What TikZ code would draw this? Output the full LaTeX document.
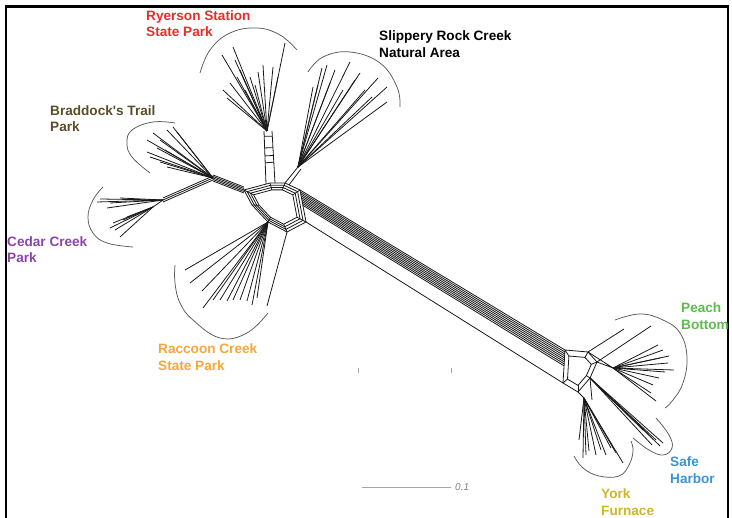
\documentclass[tikz,border=0pt]{standalone}
\usepackage{fontspec}
\newfontfamily\labelfont{Liberation Sans}
\usepackage{tikz}
\usetikzlibrary{calc}
\definecolor{ryersonred}{HTML}{EE2B2B}
\definecolor{braddockolive}{HTML}{574E2A}
\definecolor{cedarpurple}{HTML}{8A45A9}
\definecolor{raccoonorange}{HTML}{F8A53A}
\definecolor{peachgreen}{HTML}{5CBC4B}
\definecolor{safeblue}{HTML}{3894D8}
\definecolor{yorkyellow}{HTML}{CDB62C}
\tikzset{
  framerule/.style={line width=2.2pt,draw=black},
  branch/.style={line width=0.8pt,draw=black!90},
  clusterarc/.style={line width=0.75pt,draw=black!65},
  sitelabel/.style={font=\labelfont\bfseries\fontsize{13.6}{16.6}\selectfont,
                    anchor=west,align=left,inner sep=0pt},
  scalebar/.style={line width=0.8pt,draw=black!35},
}

\begin{document}
\begin{tikzpicture}[x=1pt,y=-1pt]
  \useasboundingbox (0,0) rectangle (732,518);
  \draw[framerule] (6,518) -- (6,6.5) -- (728,6.5) -- (728,518);

  % left hub and its long band
  \coordinate (hc) at (276,206);
  \coordinate (h1) at (244,190); \coordinate (h2) at (270,183);
  \coordinate (h3) at (285,183); \coordinate (h4) at (300,190);
  \coordinate (h5) at (306,222); \coordinate (h6) at (287,232);
  \coordinate (h7) at (268,222); \coordinate (h8) at (252,205);
  \foreach \s in {1,0.9,0.8,0.7}
    \draw[branch] ($(hc)!\s!(h1)$) -- ($(hc)!\s!(h2)$) -- ($(hc)!\s!(h3)$) -- ($(hc)!\s!(h4)$)
      -- ($(hc)!\s!(h5)$) -- ($(hc)!\s!(h6)$) -- ($(hc)!\s!(h7)$) -- ($(hc)!\s!(h8)$) -- cycle;
  \foreach \n in {1,...,8}
    \draw[branch] ($(hc)!0.7!(h\n)$) -- (h\n);

  % right hub
  \coordinate (rc) at (578,370);
  \coordinate (r1) at (565,350); \coordinate (r3) at (588,352);
  \coordinate (r4) at (597,362); \coordinate (r5) at (590,378);
  \coordinate (r6) at (578,392); \coordinate (r2) at (563,383);
  \foreach \s in {1,0.7}
    \draw[branch] ($(rc)!\s!(r1)$) -- ($(rc)!\s!(r3)$) -- ($(rc)!\s!(r4)$)
      -- ($(rc)!\s!(r5)$) -- ($(rc)!\s!(r6)$) -- ($(rc)!\s!(r2)$) -- cycle;
  \foreach \n in {1,...,6}
    \draw[branch] ($(rc)!0.7!(r\n)$) -- (r\n);

  \foreach \t in {0,0.06,...,0.5}
    \draw[branch] ($(h4)!\t!(h5)$) -- ($(r1)!\t!(r2)$);
  \draw[branch] (h5) -- (r2);

  % Ryerson Station
  \coordinate (ryL1) at (264,131); \coordinate (ryL2) at (266,184);
  \coordinate (ryR1) at (272,131); \coordinate (ryR2) at (275,183);
  \draw[branch] (ryL1) -- (ryL2) (ryR1) -- (ryR2);
  \foreach \t in {0.1,0.32,0.47,0.6}
    \draw[branch] ($(ryL1)!\t!(ryL2)$) -- ($(ryR1)!\t!(ryR2)$);
  \coordinate (ryB) at (267,131);
  \foreach \x/\y in {222/55,233/47,223/90,227/98,230/83,237/77,235/60,245/90,
                     250/77,258/72,263/65,273/67,278/77,285/43,240/70,255/85}
    \draw[branch] (ryB) -- (\x,\y);
  \draw[clusterarc] plot[smooth,tension=0.7] coordinates
    {(200,73) (210,50) (230,33) (257,28) (280,35) (297,50)};

  % Slippery Rock Creek
  \coordinate (srB) at (298,167);
  \draw[branch] (srB) -- (h3) (301,169) -- (289,185);
  \foreach \x/\y in {322/68,327/65,335/70,350/62,360/73,378/78,387/87,387/102,
                     313/87,318/85,330/83,343/90,365/90,372/97,355/80}
    \draw[branch] (srB) -- (\x,\y);
  \draw[clusterarc] plot[smooth,tension=0.7] coordinates
    {(308,72) (323,57) (350,52) (380,63) (397,87) (400,107)};

  % Braddock's Trail
  \coordinate (btB) at (213,178);
  \foreach \d in {-3,-1.5,0,1.5,3}
    \draw[branch] ([yshift=\d pt]h1) -- ([yshift=\d pt]btB);
  \foreach \x/\y in {147/140,153/133,167/130,173/127,177/132,150/157,157/148,
                     160/162,167/167,147/152,160/140,165/150}
    \draw[branch] (btB) -- (\x,\y);
  \draw[clusterarc] plot[smooth,tension=0.7] coordinates
    {(175,123) (153,122) (132,130) (127,143) (132,157) (150,173)};

  % Cedar Creek
  \coordinate (ccJ) at (163,200);
  \coordinate (ccB) at (153,207);
  \foreach \d in {-2,0,2}
    \draw[branch] ([yshift=\d pt]btB) -- ([yshift=\d pt]ccJ);
  \draw[branch] (ccJ) -- (ccB);
  \foreach \x/\y in {97/202,110/203,107/208,100/199,120/198}
    \draw[branch] (ccJ) -- (\x,\y);
  \foreach \x/\y in {110/228,113/223,115/230,120/237,127/217,123/220}
    \draw[branch] (ccB) -- (\x,\y);
  \draw[clusterarc] plot[smooth,tension=0.7] coordinates
    {(103,187) (93,200) (88,217) (93,233) (107,243) (133,247)};

  % Raccoon Creek
  \foreach \x/\y in {185/270,190/283,202/291,203/308,213/300,220/300,227/301,
                     233/300,240/300,247/301,252/305,257/298}
    \draw[branch] (h7) -- (\x,\y);
  \draw[branch] (h6) -- (267,306);
  \draw[clusterarc] plot[smooth,tension=0.7] coordinates
    {(175,265) (175,283) (180,303) (193,320) (220,338) (247,333) (268,313)};

  % Peach Bottom
  \coordinate (pbB) at (613,368);
  \draw[branch] (r3) -- (pbB) (r4) -- (pbB);
  \draw[branch] (r3) -- (624,329) (r4) -- (651,326);
  \foreach \x/\y in {658/345,669/356,674/370,668/363,659/378,653/385,651/393,
                     656/401,663/350,665/372,660/358}
    \draw[branch] (pbB) -- (\x,\y);
  \draw[clusterarc] plot[smooth,tension=0.7] coordinates
    {(615,320) (640,314) (663,320) (680,333) (687,357) (683,383) (673,400) (665,408)};

  % Safe Harbor
  \foreach \x/\y in {663/443,656/440,649/435,643/430,660/446,652/445}
    \draw[branch] (r5) -- (\x,\y);
  \draw[clusterarc] plot[smooth,tension=0.7] coordinates
    {(656,418) (669,435) (672,448) (663,455) (649,450) (633,438)};

  % York Furnace
  \coordinate (yfB) at (584,398);
  \draw[branch] (r6) -- (yfB) (r5) -- (592,400);
  \foreach \x/\y in {586/455,589/451,596/455,601/450,606/455,611/448,616/453,
                     623/463,579/440,583/458}
    \draw[branch] (yfB) -- (\x,\y);
  \draw[clusterarc] plot[smooth,tension=0.7] coordinates
    {(574,456) (583,468) (599,476) (619,476) (629,465) (633,451) (631,441)};

  % scale bar
  \draw[scalebar] (362,487) -- (451,487);
  \node[anchor=west,inner sep=0pt,text=black!50,font=\labelfont\itshape\fontsize{10}{12}\selectfont]
    (scalelabel) at (455,487) {0.1};
  \draw[scalebar] (358,368) -- (358,373) (451,368) -- (451,373);

  % site labels
  \node[sitelabel,text=ryersonred] (ryerson) at (146,23.5) {Ryerson Station\\State Park};
  \node[sitelabel,text=black] (slippery) at (379,44) {Slippery Rock Creek\\Natural Area};
  \node[sitelabel,text=braddockolive] (braddock) at (50,118.5) {Braddock's Trail\\Park};
  \node[sitelabel,text=cedarpurple] (cedar) at (7,249.5) {Cedar Creek\\Park};
  \node[sitelabel,text=raccoonorange] (raccoon) at (158,357) {Raccoon Creek\\State Park};
  \node[sitelabel,text=peachgreen] (peach) at (681,316) {Peach\\Bottom};
  \node[sitelabel,text=safeblue] (safe) at (670,470) {Safe\\Harbor};
  \node[sitelabel,text=yorkyellow] (york) at (601,502) {York\\Furnace};
\end{tikzpicture}
\end{document}
